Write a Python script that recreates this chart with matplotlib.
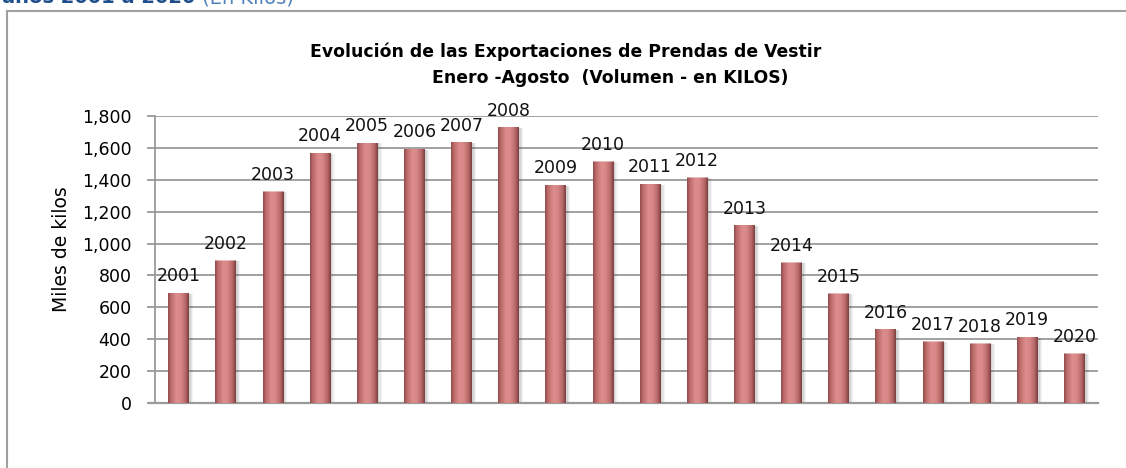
import numpy as np
import matplotlib.pyplot as plt
from matplotlib.colors import LinearSegmentedColormap
from matplotlib.lines import Line2D

# data (miles de kilos, enero-agosto)
years = [str(y) for y in range(2001, 2021)]
volumen = [685, 890, 1323, 1564, 1628, 1589, 1631, 1725, 1363, 1511,
           1369, 1411, 1111, 877, 682, 458, 381, 370, 410, 306]
yticks = [0, 200, 400, 600, 800, 1000, 1200, 1400, 1600, 1800]

fig = plt.figure(figsize=(11.26, 4.68), dpi=100)
ax = fig.add_axes([155 / 1126, 1 - 403 / 468, (1098 - 155) / 1126, (403 - 116) / 468])

x = np.arange(len(years))

# soft shadow to the right of each column
for k, a in enumerate([0.10, 0.08, 0.06]):
    ax.bar(x + 0.04 + 0.025 * k, volumen, width=0.44, color="#404040", alpha=a,
           zorder=2, linewidth=0)

bars = ax.bar(x, volumen, width=0.44, color="#C97474", zorder=3, linewidth=0)

# horizontal shading to imitate the excel 3d column look
shade = LinearSegmentedColormap.from_list(
    "col", [(0.0, "#8E4B4B"), (0.12, "#BA6868"), (0.4, "#DE8D8D"),
            (0.6, "#DA8989"), (0.85, "#B66666"), (1.0, "#7A3E3E")])
grad = np.linspace(0, 1, 64).reshape(1, -1)
for p in bars:
    bx, bw, bh = p.get_x(), p.get_width(), p.get_height()
    ax.imshow(grad, extent=[bx, bx + bw, 0, bh], aspect="auto", cmap=shade,
              zorder=4, interpolation="bicubic")
    # lighter cap on top of the column
    ax.imshow(grad, extent=[bx, bx + bw, bh - 14, bh], aspect="auto",
              cmap=shade, zorder=5, alpha=0.55, interpolation="bicubic")

# year labels sitting over the columns
for p, yr in zip(bars, years):
    ax.annotate(yr, (p.get_x() + p.get_width() / 2, p.get_height()),
                xytext=(0, 6), textcoords="offset points", ha="center",
                va="bottom", fontsize=12.5, color="#111111", zorder=6)

ax.set_xlim(-0.5, len(years) - 0.5)
ax.set_ylim(0, 1800)
ax.set_yticks(yticks)
ax.set_yticklabels([f"{v:,}" for v in yticks], fontsize=12.5)
ax.set_xticks([])
ax.grid(axis="y", color="#9A9A9A", linewidth=1.3, zorder=0)
ax.tick_params(axis="y", length=6, width=1.3, color="#9A9A9A", pad=11)
for s in ["top", "right"]:
    ax.spines[s].set_visible(False)
ax.spines["left"].set_color("#9A9A9A")
ax.spines["left"].set_linewidth(1.3)
ax.spines["bottom"].set_color("#9A9A9A")
ax.spines["bottom"].set_linewidth(1.6)
ax.spines["bottom"].set_bounds(-0.62, len(years) - 0.5)
ax.set_ylabel("Miles de kilos", fontsize=13.5)
ax.yaxis.set_label_coords(-0.089, 0.537)

# chart title (two lines, as in the original)
fig.text(566 / 1126, 1 - 52 / 468, "Evolución de las Exportaciones de Prendas de Vestir",
         ha="center", va="center", fontsize=12.4, fontweight="bold")
fig.text(610 / 1126, 1 - 78 / 468, "Enero -Agosto  (Volumen - en KILOS)",
         ha="center", va="center", fontsize=12.4, fontweight="bold")

# outer chart frame (only top and left edges fall inside the picture)
fig.add_artist(Line2D([7 / 1126, 1.0], [1 - 11 / 468, 1 - 11 / 468],
                      color="#A0A0A0", linewidth=1.5))
fig.add_artist(Line2D([7 / 1126, 7 / 1126], [0.0, 1 - 11 / 468],
                      color="#A0A0A0", linewidth=1.5))

# heading of the page, cut by the top edge
t1 = fig.text(0.002, 1 - 3 / 468, "años 2001 a 2020", ha="left", va="baseline",
              fontsize=14, fontweight="bold", color="#1F4E8C")
ax.annotate(" (En Kilos)", xy=(1, 0), xycoords=t1, va="bottom", ha="left",
            fontsize=14, color="#4F81BD", annotation_clip=False)

fig.savefig("out.png", dpi=100)
